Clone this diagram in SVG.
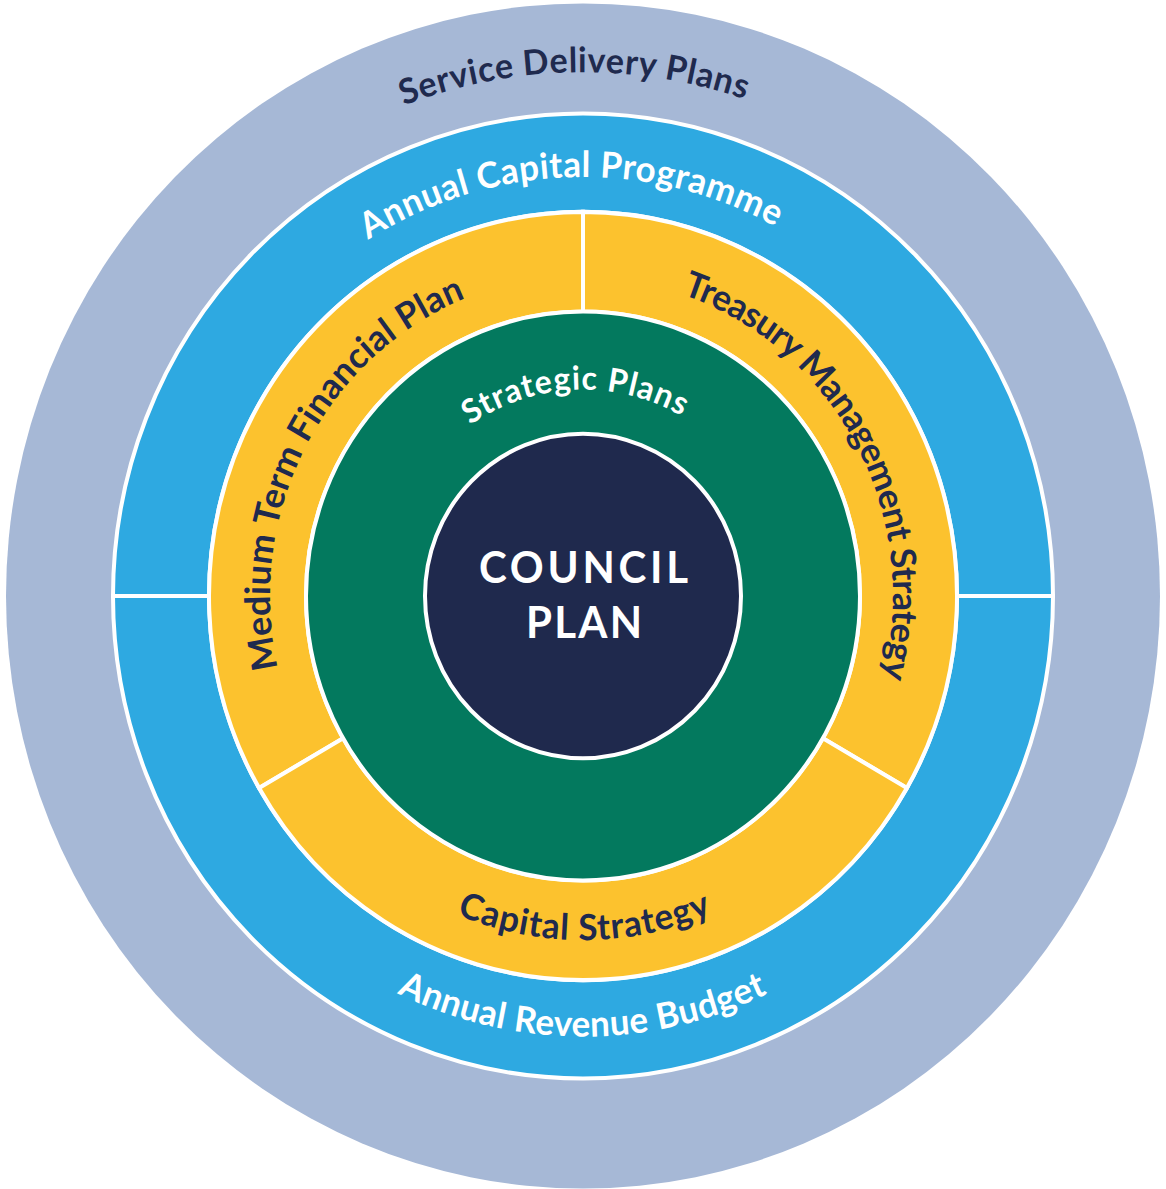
<svg xmlns="http://www.w3.org/2000/svg" xmlns:xlink="http://www.w3.org/1999/xlink" width="1166" height="1189" viewBox="0 0 1166 1189">
  <style>
    .lbl { font-family: Lato, "Open Sans", "Liberation Sans", sans-serif; font-weight: 700; }
    .dark { fill: #1f2a4e; }
    .light { fill: #ffffff; }
    .seg { stroke: #ffffff; stroke-width: 4; stroke-linejoin: miter; }
    .gray { fill: #a6b8d6; }
    .blue { fill: #2ea9e1; }
    .yellow { fill: #fcc22e; }
    .green { fill: #03795e; }
    .navy { fill: #1f294d; }
  </style>
  <defs>
    <path id="p-sdp" d="M -510 0 A 510 510 0 0 1 510 0"/>
    <path id="p-acp" d="M -408 0 A 408 408 0 0 1 408 0"/>
    <path id="p-sp" d="M -201 0 A 201 201 0 0 1 201 0"/>
    <path id="p-mtfp" d="M 0 313 A 313 313 0 0 1 0 -313"/>
    <path id="p-tms" d="M 0 -310 A 310 310 0 0 1 0 310"/>
    <path id="p-cs" d="M -335 0 A 335 335 0 0 0 335 0"/>
    <path id="p-arb" d="M -429 0 A 429 429 0 0 0 429 0"/>
  </defs>
  <rect width="1166" height="1189" fill="#ffffff"/>
  <g transform="translate(583 596) scale(1 1.027)">
    <g id="service-delivery-plans">
      <circle class="gray" cx="0" cy="0" r="577"/>
      <text class="lbl dark" font-size="34"><textPath xlink:href="#p-sdp" href="#p-sdp" startOffset="617.8" textLength="348" lengthAdjust="spacing">Service Delivery Plans</textPath></text>
    </g>
    <g id="annual-capital-programme">
      <path class="blue seg" d="M -470 0 A 470 470 0 0 1 470 0 L 374 0 A 374 374 0 0 0 -374 0 Z"/>
      <text class="lbl light" font-size="35"><textPath xlink:href="#p-acp" href="#p-acp" startOffset="414.4" textLength="427" lengthAdjust="spacing">Annual Capital Programme</textPath></text>
    </g>
    <g id="annual-revenue-budget">
      <path class="blue seg" d="M 470 0 A 470 470 0 0 1 -470 0 L -374 0 A 374 374 0 0 0 374 0 Z"/>
      <text class="lbl light" font-size="35"><textPath xlink:href="#p-arb" href="#p-arb" startOffset="481.4" textLength="383" lengthAdjust="spacing">Annual Revenue Budget</textPath></text>
    </g>
    <g id="medium-term-financial-plan">
      <path class="yellow seg" d="M -323.89 187 A 374 374 0 0 1 0 -374 L 0 -277 A 277 277 0 0 0 -239.89 138.5 Z"/>
      <text class="lbl dark" font-size="35"><textPath xlink:href="#p-mtfp" href="#p-mtfp" startOffset="420.6" textLength="442" lengthAdjust="spacing">Medium Term Financial Plan</textPath></text>
    </g>
    <g id="treasury-management-strategy">
      <path class="yellow seg" d="M 0 -374 A 374 374 0 0 1 323.89 187 L 239.89 138.5 A 277 277 0 0 0 0 -277 Z"/>
      <text class="lbl dark" font-size="35"><textPath xlink:href="#p-tms" href="#p-tms" startOffset="101" textLength="466" lengthAdjust="spacing">Treasury Management Strategy</textPath></text>
    </g>
    <g id="capital-strategy">
      <path class="yellow seg" d="M 323.89 187 A 374 374 0 0 1 -323.89 187 L -239.89 138.5 A 277 277 0 0 0 239.89 138.5 Z"/>
      <text class="lbl dark" font-size="35"><textPath xlink:href="#p-cs" href="#p-cs" startOffset="396.4" textLength="262" lengthAdjust="spacing">Capital Strategy</textPath></text>
    </g>
    <g id="strategic-plans">
      <circle class="green seg" cx="0" cy="0" r="277"/>
      <text class="lbl light" font-size="32"><textPath xlink:href="#p-sp" href="#p-sp" startOffset="195.8" textLength="223" lengthAdjust="spacing">Strategic Plans</textPath></text>
    </g>
    <g id="council-plan">
      <circle class="navy seg" cx="0" cy="0" r="158"/>
      <text class="lbl light" font-size="42" x="-104" y="-12.7" textLength="209" lengthAdjust="spacing">COUNCIL</text>
      <text class="lbl light" font-size="42" x="-57" y="40.9" textLength="116" lengthAdjust="spacing">PLAN</text>
    </g>
    <g id="connectors"/>
  </g>
</svg>
